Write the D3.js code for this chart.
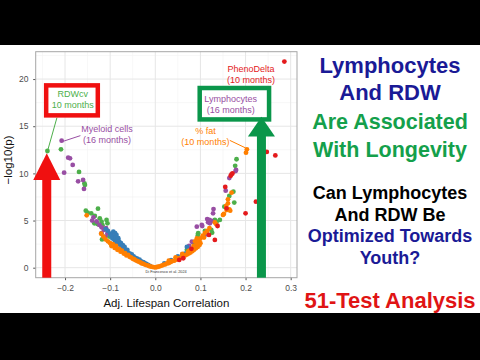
<!DOCTYPE html>
<html><head><meta charset="utf-8">
<script src="https://cdn.jsdelivr.net/npm/d3@7"></script>
<style>body{margin:0;background:#000}svg{display:block}</style>
</head><body>
<svg id="c" width="480" height="360"></svg>
<script>
// ---- data (Adj. lifespan correlation, -log10(p)) ----
const xTicks = [-0.2, -0.1, 0.0, 0.1, 0.2, 0.3];
const yTicks = [0, 5, 10, 15, 20];
const red = [[0.286,21.85],[0.247,12.27],[0.266,11.9],[0.223,7.0],[0.2,5.77],[0.171,10.0],[0.167,9.75],[0.169,9.9],[0.155,8.56],[0.158,6.3],[0.138,4.42],[0.119,3.47],[0.053,0.82],[0.062,1.0],[0.08,2.0],[0.132,2.94]];
const green = [[-0.239,12.37],[-0.209,12.55],[-0.169,10.15],[-0.157,8.95],[-0.156,8.77],[-0.154,6.05],[-0.15,5.83],[-0.127,6.26],[-0.142,5.77],[-0.134,5.48],[-0.123,5.24],[-0.135,4.7],[-0.128,4.63],[-0.119,4.88],[-0.118,4.4],[-0.106,4.7],[-0.102,3.3],[-0.097,2.4],[-0.118,3.0],[-0.108,5.06],[-0.117,4.5],
  [0.18,11.5],[0.177,10.8],[0.173,8.06],[0.164,7.6],[0.175,6.9],[0.153,6.47],[0.132,5.06],[0.136,4.88],[0.143,5.06],[0.124,4.0],[0.126,3.71],[0.095,3.65],[0.094,3.4],[0.085,2.6],[0.07,1.9],[0.11,3.9]];
const purple = [[-0.2075,13.47],[-0.193,11.66],[-0.189,11.6],[-0.183,10.9],[-0.202,10.07],[-0.171,9.16],[-0.16,9.3],[-0.158,8.35],[-0.137,5.34],[-0.124,4.53],[-0.119,4.28],[-0.114,4.0],[-0.109,4.18],[-0.106,3.65],[-0.097,3.47],[-0.119,3.65],[-0.111,3.3],[-0.13,4.9],[-0.14,5.0],
  [0.234,16.97],[0.178,10.25],[0.179,10.36],[0.164,9.5],[0.156,8.17],[0.129,6.22],[0.128,5.77],[0.115,5.16],[0.12,5.06],[0.117,4.81],[0.125,4.95],[0.121,4.71],[0.104,4.42],[0.114,3.54],[0.092,4.35],[0.103,4.53],[0.081,2.76],[0.075,2.3],[0.06,1.4]];
const blue = [[-0.093,3.82],[-0.089,3.65],[-0.086,3.47],[-0.091,3.3],[-0.082,3.12],[-0.1,3.6],[-0.098,3.4],[-0.095,3.1],[-0.09,2.9],[-0.088,3.2],[-0.086,2.7],[-0.084,3.0],[-0.082,2.6],[-0.08,2.8],[-0.078,2.4],[-0.076,2.6],[-0.074,2.2],[-0.072,2.4],[-0.07,2.0],[-0.068,2.2],[-0.066,1.9],[-0.064,1.7],[-0.062,1.9],[-0.06,1.6],[-0.058,1.4],[-0.056,1.5],[-0.054,1.3],[-0.052,1.4],[-0.05,1.15],[-0.048,1.2],[-0.046,1.0],[-0.044,1.05],[-0.042,0.9],[-0.04,0.95],[-0.038,0.8],[-0.035,0.85],[-0.032,0.7],[-0.03,0.6],[-0.027,0.6],[-0.024,0.5],[-0.02,0.4],[-0.016,0.3],[-0.012,0.2],[0.02,0.45],[0.035,0.8],[0.05,1.2],[0.066,1.5],[0.07,2.2],[0.09,2.4],[-0.11,4.1],[-0.105,3.9]];
const orange = [[-0.152,5.55],[-0.12,3.6],[-0.115,3.3],[-0.11,3.0],[-0.105,2.8],[-0.1,2.6],[-0.097,2.3],[-0.094,2.5],[-0.09,2.1],[-0.087,2.3],[-0.084,1.9],[-0.08,2.0],[-0.077,1.7],[-0.074,1.8],[-0.07,1.5],[-0.067,1.55],[-0.064,1.3],[-0.06,1.35],[-0.057,1.15],[-0.054,1.1],[-0.05,0.95],[-0.047,0.9],[-0.044,0.8],[-0.04,0.7],[-0.037,0.65],[-0.033,0.55],[-0.03,0.45],[-0.026,0.4],[-0.022,0.3],[-0.018,0.25],[-0.014,0.18],[-0.01,0.12],[-0.006,0.08],[-0.002,0.04],[0.002,0.05],[0.006,0.1],[0.01,0.15],[0.014,0.22],[0.018,0.3],[0.022,0.35],[0.026,0.45],[0.03,0.5],[0.034,0.6],[0.038,0.7],[0.042,0.75],[0.046,0.85],[0.05,0.95],[0.054,1.0],[0.058,1.1],[0.062,1.2],[0.066,1.3],[0.07,1.4],[0.074,1.5],[0.078,1.6],[0.082,1.75],[0.086,1.9],[0.09,2.05],[0.094,2.2],[0.098,2.4],[0.1,2.6],[0.096,2.7],[0.03,0.75],[0.045,1.1],[0.06,1.45],[0.075,1.8],[0.085,2.3],[0.092,2.6],[0.088,2.8],[0.1,3.1],[0.073,1.7],[0.092,3.1],
  [0.203,12.55],[0.201,12.2],[0.169,7.95],[0.161,7.25],[0.161,6.83],[0.157,6.54],[0.164,6.19],[0.158,6.12],[0.166,6.05],[0.152,5.7],[0.15,5.59],[0.132,4.8],[0.135,4.6],[0.11,3.7],[0.105,3.4],[0.115,3.9],[0.12,4.2],[0.098,3.0],[0.108,3.2]];
const series = [
  {name:"green", color:"#4DAF4A", pts:green},
  {name:"purple", color:"#984EA3", pts:purple},
  {name:"blue", color:"#377EB8", pts:blue},
  {name:"orange", color:"#FF7F00", pts:orange},
  {name:"red", color:"#E41A1C", pts:red}
];
const labels = [
  {lines:["PhenoDelta","(10 months)"], color:"#E41A1C", x:0.212, y:20.8},
  {lines:["Lymphocytes","(16 months)"], color:"#984EA3", x:0.167, y:17.6},
  {lines:["% fat","(10 months)"], color:"#FF7F00", x:0.111, y:14.2},
  {lines:["Myeloid cells","(16 months)"], color:"#984EA3", x:-0.107, y:14.4},
  {lines:["RDWcv","10 months"], color:"#4DAF4A", x:-0.183, y:18.1}
];
const titleLines = [
  {t:"Lymphocytes", c:"#1a1a96", s:22, b:73.3},
  {t:"And RDW", c:"#1a1a96", s:22, b:100},
  {t:"Are Associated", c:"#14a04b", s:21.5, b:129.3},
  {t:"With Longevity", c:"#14a04b", s:21.5, b:156.7},
  {t:"Can Lymphocytes", c:"#000000", s:18, b:199.3},
  {t:"And RDW Be", c:"#000000", s:18, b:220.5},
  {t:"Optimized Towards", c:"#1a1a96", s:18, b:242},
  {t:"Youth?", c:"#1a1a96", s:18, b:264},
  {t:"51-Test Analysis", c:"#e01414", s:22, b:308.3}
];

const svg = d3.select("#c");
svg.append("rect").attr("x",0).attr("y",0).attr("width",480).attr("height",360).attr("fill","#000");
svg.append("rect").attr("x",0).attr("y",45).attr("width",480).attr("height",268).attr("fill","#fff");

const L=35.7, R=297, T=51.7, B=277.7;
const x = d3.scaleLinear().domain([-0.265,0.314]).range([L,R]);
const y = d3.scaleLinear().domain([-1.06,22.9]).range([B,T]);
const F = "'Liberation Sans', Arial, Helvetica, sans-serif";

// grid
const g = svg.append("g");
const xMinor = [-0.25,-0.15,-0.05,0.05,0.15,0.25];
const yMinor = [2.5,7.5,12.5,17.5,22.5];
g.selectAll(".xm").data(xMinor).join("line").attr("x1",d=>x(d)).attr("x2",d=>x(d)).attr("y1",T).attr("y2",B).attr("stroke","#f2f2f2").attr("stroke-width",0.6);
g.selectAll(".ym").data(yMinor).join("line").attr("y1",d=>y(d)).attr("y2",d=>y(d)).attr("x1",L).attr("x2",R).attr("stroke","#f2f2f2").attr("stroke-width",0.6);
g.selectAll(".xM").data(xTicks).join("line").attr("x1",d=>x(d)).attr("x2",d=>x(d)).attr("y1",T).attr("y2",B).attr("stroke","#e6e6e6").attr("stroke-width",1);
g.selectAll(".yM").data(yTicks).join("line").attr("y1",d=>y(d)).attr("y2",d=>y(d)).attr("x1",L).attr("x2",R).attr("stroke","#e6e6e6").attr("stroke-width",1);

// axes
const xa = svg.append("g").attr("transform",`translate(0,${B})`).call(d3.axisBottom(x).tickValues(xTicks).tickSize(2.5).tickFormat(d3.format(".1f")));
const ya = svg.append("g").attr("transform",`translate(${L},0)`).call(d3.axisLeft(y).tickValues(yTicks).tickSize(2.5).tickFormat(d3.format("d")));
[xa,ya].forEach(a=>{a.select(".domain").remove();a.selectAll("line").attr("stroke","#555");a.selectAll("text").attr("fill","#4d4d4d").attr("font-family",F).attr("font-size",8.5);});
xa.selectAll("text").attr("dy","0.95em");
ya.selectAll("text").attr("dx","-0.2em");

// points
series.forEach(s=>{
  svg.append("g").selectAll("circle").data(s.pts).join("circle")
    .attr("cx",d=>x(d[0])).attr("cy",d=>y(d[1])).attr("r",2.4).attr("fill",s.color);
});

// panel border
svg.append("rect").attr("x",L).attr("y",T).attr("width",R-L).attr("height",B-T).attr("fill","none").attr("stroke","#a6a6a6").attr("stroke-width",1);

// credit
svg.append("text").attr("x",x(0.024)).attr("y",y(-0.6)).attr("text-anchor","middle").attr("font-family",F).attr("font-size",3.8).attr("fill","#333").text("Di Francesco et al. 2024");

// connector lines
const conn = [
  {c:"#984EA3", a:[-0.166,14.0], b:[-0.204,13.4]},
  {c:"#FF7F00", a:[0.165,13.5], b:[0.2,12.7]},
  {c:"#4DAF4A", a:[-0.218,15.9], b:[-0.238,12.5]}
];
conn.forEach(k=>svg.append("line").attr("x1",x(k.a[0])).attr("y1",y(k.a[1])).attr("x2",x(k.b[0])).attr("y2",y(k.b[1])).attr("stroke",k.c).attr("stroke-width",1));

// boxes
const boxes = [
  {c:"#f01010", x0:-0.2418, x1:-0.1274, y0:19.33, y1:16.15},
  {c:"#0a964a", x0:0.0984, x1:0.2521, y0:19.05, y1:15.72}
];
boxes.forEach(b=>svg.append("rect").attr("x",x(b.x0)).attr("y",y(b.y0)).attr("width",x(b.x1)-x(b.x0)).attr("height",y(b.y1)-y(b.y0)).attr("fill","#fff").attr("stroke",b.c).attr("stroke-width",4.5));

// labels
labels.forEach(l=>{
  const t = svg.append("text").attr("text-anchor","middle").attr("font-family",F).attr("font-size",9).attr("fill",l.color);
  l.lines.forEach((s,i)=>t.append("tspan").attr("x",x(l.x)).attr("y",y(l.y)+i*11.5).text(s));
});

// arrows
const arrows = [
  {c:"#f01010", xc:-0.2405, tip:12.13, base:9.3},
  {c:"#0a964a", xc:0.2352, tip:16.0, base:13.9}
];
arrows.forEach(a=>{
  const cx = x(a.xc), ty=y(a.tip), by=y(a.base);
  svg.append("rect").attr("x",cx-4.5).attr("y",by-1).attr("width",9).attr("height",B-by+1).attr("fill",a.c);
  svg.append("path").attr("d",`M${cx},${ty}L${cx+13.5},${by}L${cx-13.5},${by}Z`).attr("fill",a.c);
});

// axis titles
svg.append("text").attr("x",(L+R)/2).attr("y",307).attr("text-anchor","middle").attr("font-family",F).attr("font-size",11.5).attr("fill","#111").text("Adj. Lifespan Correlation");
svg.append("text").attr("transform",`translate(12,160) rotate(-90)`).attr("text-anchor","middle").attr("font-family",F).attr("font-size",11.5).attr("fill","#111").text("\u2212log10(p)");

// right side titles
titleLines.forEach(l=>svg.append("text").attr("x",390).attr("y",l.b).attr("text-anchor","middle").attr("font-family",F).attr("font-weight","bold").attr("font-size",l.s).attr("fill",l.c).text(l.t));
</script>
</body></html>
